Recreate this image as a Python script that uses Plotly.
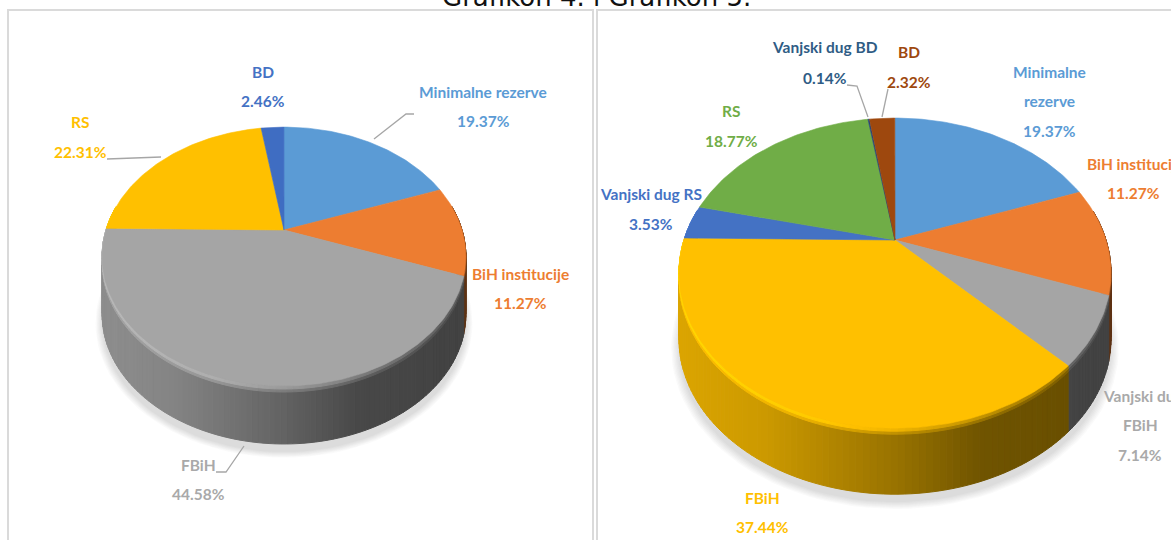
import math
import plotly.graph_objects as go

# ---- data -----------------------------------------------------------------
left_labels = ["Minimalne rezerve", "BiH institucije", "FBiH", "RS", "BD"]
left_values = [19.37, 11.27, 44.58, 22.31, 2.46]
left_colors = ["#5B9BD5", "#ED7D31", "#A5A5A5", "#FFC000", "#3F6DC2"]

right_labels = ["Minimalne rezerve", "BiH institucije", "Vanjski dug FBiH", "FBiH",
                "Vanjski dug RS", "RS", "Vanjski dug BD", "BD"]
right_values = [19.37, 11.27, 7.14, 37.44, 3.53, 18.77, 0.14, 2.32]
right_colors = ["#5B9BD5", "#ED7D31", "#A5A5A5", "#FFC000", "#4472C4", "#70AD47", "#264478", "#9E480E"]

title_text = "Grafikon 4. i Grafikon 5."

# ---- helpers --------------------------------------------------------------
def rgb(h):
    return tuple(int(h[i:i + 2], 16) for i in (1, 3, 5))

def shade(h, f):
    return "rgb(%d,%d,%d)" % tuple(min(255, int(c * f)) for c in rgb(h))

STOPS = [(0.0, .86), (.2, .80), (.5, .60), (.7, .44), (1.0, .40)]
MID = [(0.0, 1.0), (.3, .92), (.5, .76), (.75, .56), (1.0, .46)]
RIM = [(0.0, 1.12), (.3, 1.06), (.5, .94), (.75, .72), (1.0, .56)]

def interp(stops, t):
    for (a, fa), (b, fb) in zip(stops, stops[1:]):
        if t <= b:
            return fa + (fb - fa) * (t - a) / (b - a)
    return stops[-1][1]

def draw_pie(fig, values, colors, labels, cx, cy, A, k, p, D):
    def proj(theta, grow=1.0):
        u, v = math.sin(theta), math.cos(theta)
        d = 1 + p * v
        return cx + grow * A * u / d, cy - grow * k * v / d

    total = 100.0
    # soft ground shadow
    for i in range(7):
        pts = [proj(2 * math.pi * j / 120, 1.0 + 0.006 * i) for j in range(121)]
        fig.add_trace(go.Scatter(x=[a for a, _ in pts], y=[b + D + 8 for _, b in pts], mode="lines",
                                 fill="toself", fillcolor="rgba(90,90,90,0.03)", line=dict(width=0),
                                 hoverinfo="skip", showlegend=False))
    # side wall + bevel rim
    spans = []
    cum = 0.0
    for val, col, lab in zip(values, colors, labels):
        start = cum / total * 2 * math.pi
        cum += val
        spans.append((start, cum / total * 2 * math.pi, col, lab))
    for layer_depth, stops in ((D, STOPS), (6, MID), (3, RIM)):
        for start, end, col, lab in spans:
            n = max(1, math.ceil((end - start) / math.radians(1.5)))
            for i in range(n):
                a0 = start + (end - start) * i / n
                a1 = start + (end - start) * (i + 1) / n
                if math.cos((a0 + a1) / 2) > 0.2:
                    continue
                x0, y0 = proj(a0)
                x1, y1 = proj(a1)
                t = ((x0 + x1) / 2 - (cx - A * 1.02)) / (2 * A * 1.02)
                c = shade(col, interp(stops, t))
                fig.add_trace(go.Scatter(x=[x0, x1, x1, x0, x0],
                                         y=[y0, y1, y1 + layer_depth, y0 + layer_depth, y0],
                                         mode="lines", fill="toself", fillcolor=c,
                                         line=dict(color=c, width=1),
                                         hoverinfo="skip", showlegend=False))
    # top face
    for start, end, col, lab in spans:
        n = max(2, math.ceil((end - start) / math.radians(1)))
        pts = [proj(start + (end - start) * i / n) for i in range(n + 1)]
        xs = [cx] + [a for a, _ in pts] + [cx]
        ys = [cy] + [b for _, b in pts] + [cy]
        fig.add_trace(go.Scatter(x=xs, y=ys, mode="lines", fill="toself", fillcolor=col,
                                 line=dict(color=col, width=0.6), name=lab,
                                 hoverinfo="name", showlegend=False))

fig = go.Figure()
draw_pie(fig, left_values, left_colors, left_labels, 284, 230, 178, 124, 0.205, 58)
draw_pie(fig, right_values, right_colors, right_labels, 895, 240, 211, 148, 0.2136, 66)

# ---- label text -----------------------------------------------------------
BLUE, ORANGE, GREY, GOLD, DBLUE, GREEN, NAVY, BROWN = ("#5B9BD5", "#ED7D31", "#A9A9A9", "#FFC000",
                                                       "#4472C4", "#70AD47", "#2F5C85", "#9E480E")
texts = [
    ("BD", 263, 72, DBLUE, "center"), ("2.46%", 263, 101, DBLUE, "center"),
    ("Minimalne rezerve", 483, 92, BLUE, "center"), ("19.37%", 483, 121, BLUE, "center"),
    ("RS", 80, 122, GOLD, "center"), ("22.31%", 80, 152, GOLD, "center"),
    ("BiH institucije", 520, 274, ORANGE, "center"), ("11.27%", 520, 303, ORANGE, "center"),
    ("FBiH", 198, 465, GREY, "center"), ("44.58%", 198, 494, GREY, "center"),
    ("Vanjski dug BD", 825, 47, NAVY, "center"), ("0.14%", 825, 78, NAVY, "center"),
    ("BD", 909, 52, BROWN, "center"), ("2.32%", 909, 82, BROWN, "center"),
    ("Minimalne", 1049, 72, BLUE, "center"), ("rezerve", 1049, 101, BLUE, "center"),
    ("19.37%", 1049, 131, BLUE, "center"),
    ("BiH institucij", 1085, 164, ORANGE, "left"), ("11.27%", 1133, 193, ORANGE, "center"),
    ("RS", 731, 111, GREEN, "center"), ("18.77%", 731, 141, GREEN, "center"),
    ("Vanjski dug RS", 651, 194, DBLUE, "center"), ("3.53%", 651, 224, DBLUE, "center"),
    ("Vanjski du", 1101, 396, GREY, "left"), ("FBiH", 1140, 425, GREY, "center"),
    ("7.14%", 1140, 455, GREY, "center"),
    ("FBiH", 762, 498, GOLD, "center"), ("37.44%", 762, 527, GOLD, "center"),
]
annotations = [dict(x=x, y=y, xref="x", yref="y", text=t, showarrow=False, xanchor=a, yanchor="middle",
                    font=dict(family="Lato", size=15.5, weight=700, color=c))
               for t, x, y, c, a in texts]
annotations.append(dict(x=596, y=0, xref="x", yref="y", text=title_text, showarrow=False,
                        xanchor="center", yanchor="middle", yshift=3,
                        font=dict(family="DejaVu Sans", size=26, color="#111111")))

# ---- leader lines ---------------------------------------------------------
leaders = [
    [(374, 139), (406, 114), (414, 114)],
    [(107, 159), (161, 157)],
    [(244, 446), (226, 472), (216, 472)],
    [(847, 85), (857, 86), (868, 117)],
    [(888, 89), (882, 117)],
]
for pts in leaders:
    fig.add_trace(go.Scatter(x=[a for a, _ in pts], y=[b for _, b in pts], mode="lines",
                             line=dict(color="#A6A6A6", width=1.3), hoverinfo="skip", showlegend=False))

panel_line = dict(color="#DADADA", width=2)
shapes = [
    dict(type="rect", xref="x", yref="y", x0=8, x1=593, y0=10, y1=560, line=panel_line, layer="below"),
    dict(type="rect", xref="x", yref="y", x0=597, x1=1190, y0=10, y1=560, line=panel_line, layer="below"),
]

fig.update_layout(
    width=1171, height=540, margin=dict(l=0, r=0, t=0, b=0),
    paper_bgcolor="white", plot_bgcolor="white", showlegend=False,
    xaxis=dict(range=[0, 1171], visible=False, fixedrange=True),
    yaxis=dict(range=[540, 0], visible=False, fixedrange=True),
    annotations=annotations, shapes=shapes,
)
fig.write_html("out.html", config={"displayModeBar": False},
               post_script="document.body.style.margin='0';document.body.style.overflow='hidden';")
